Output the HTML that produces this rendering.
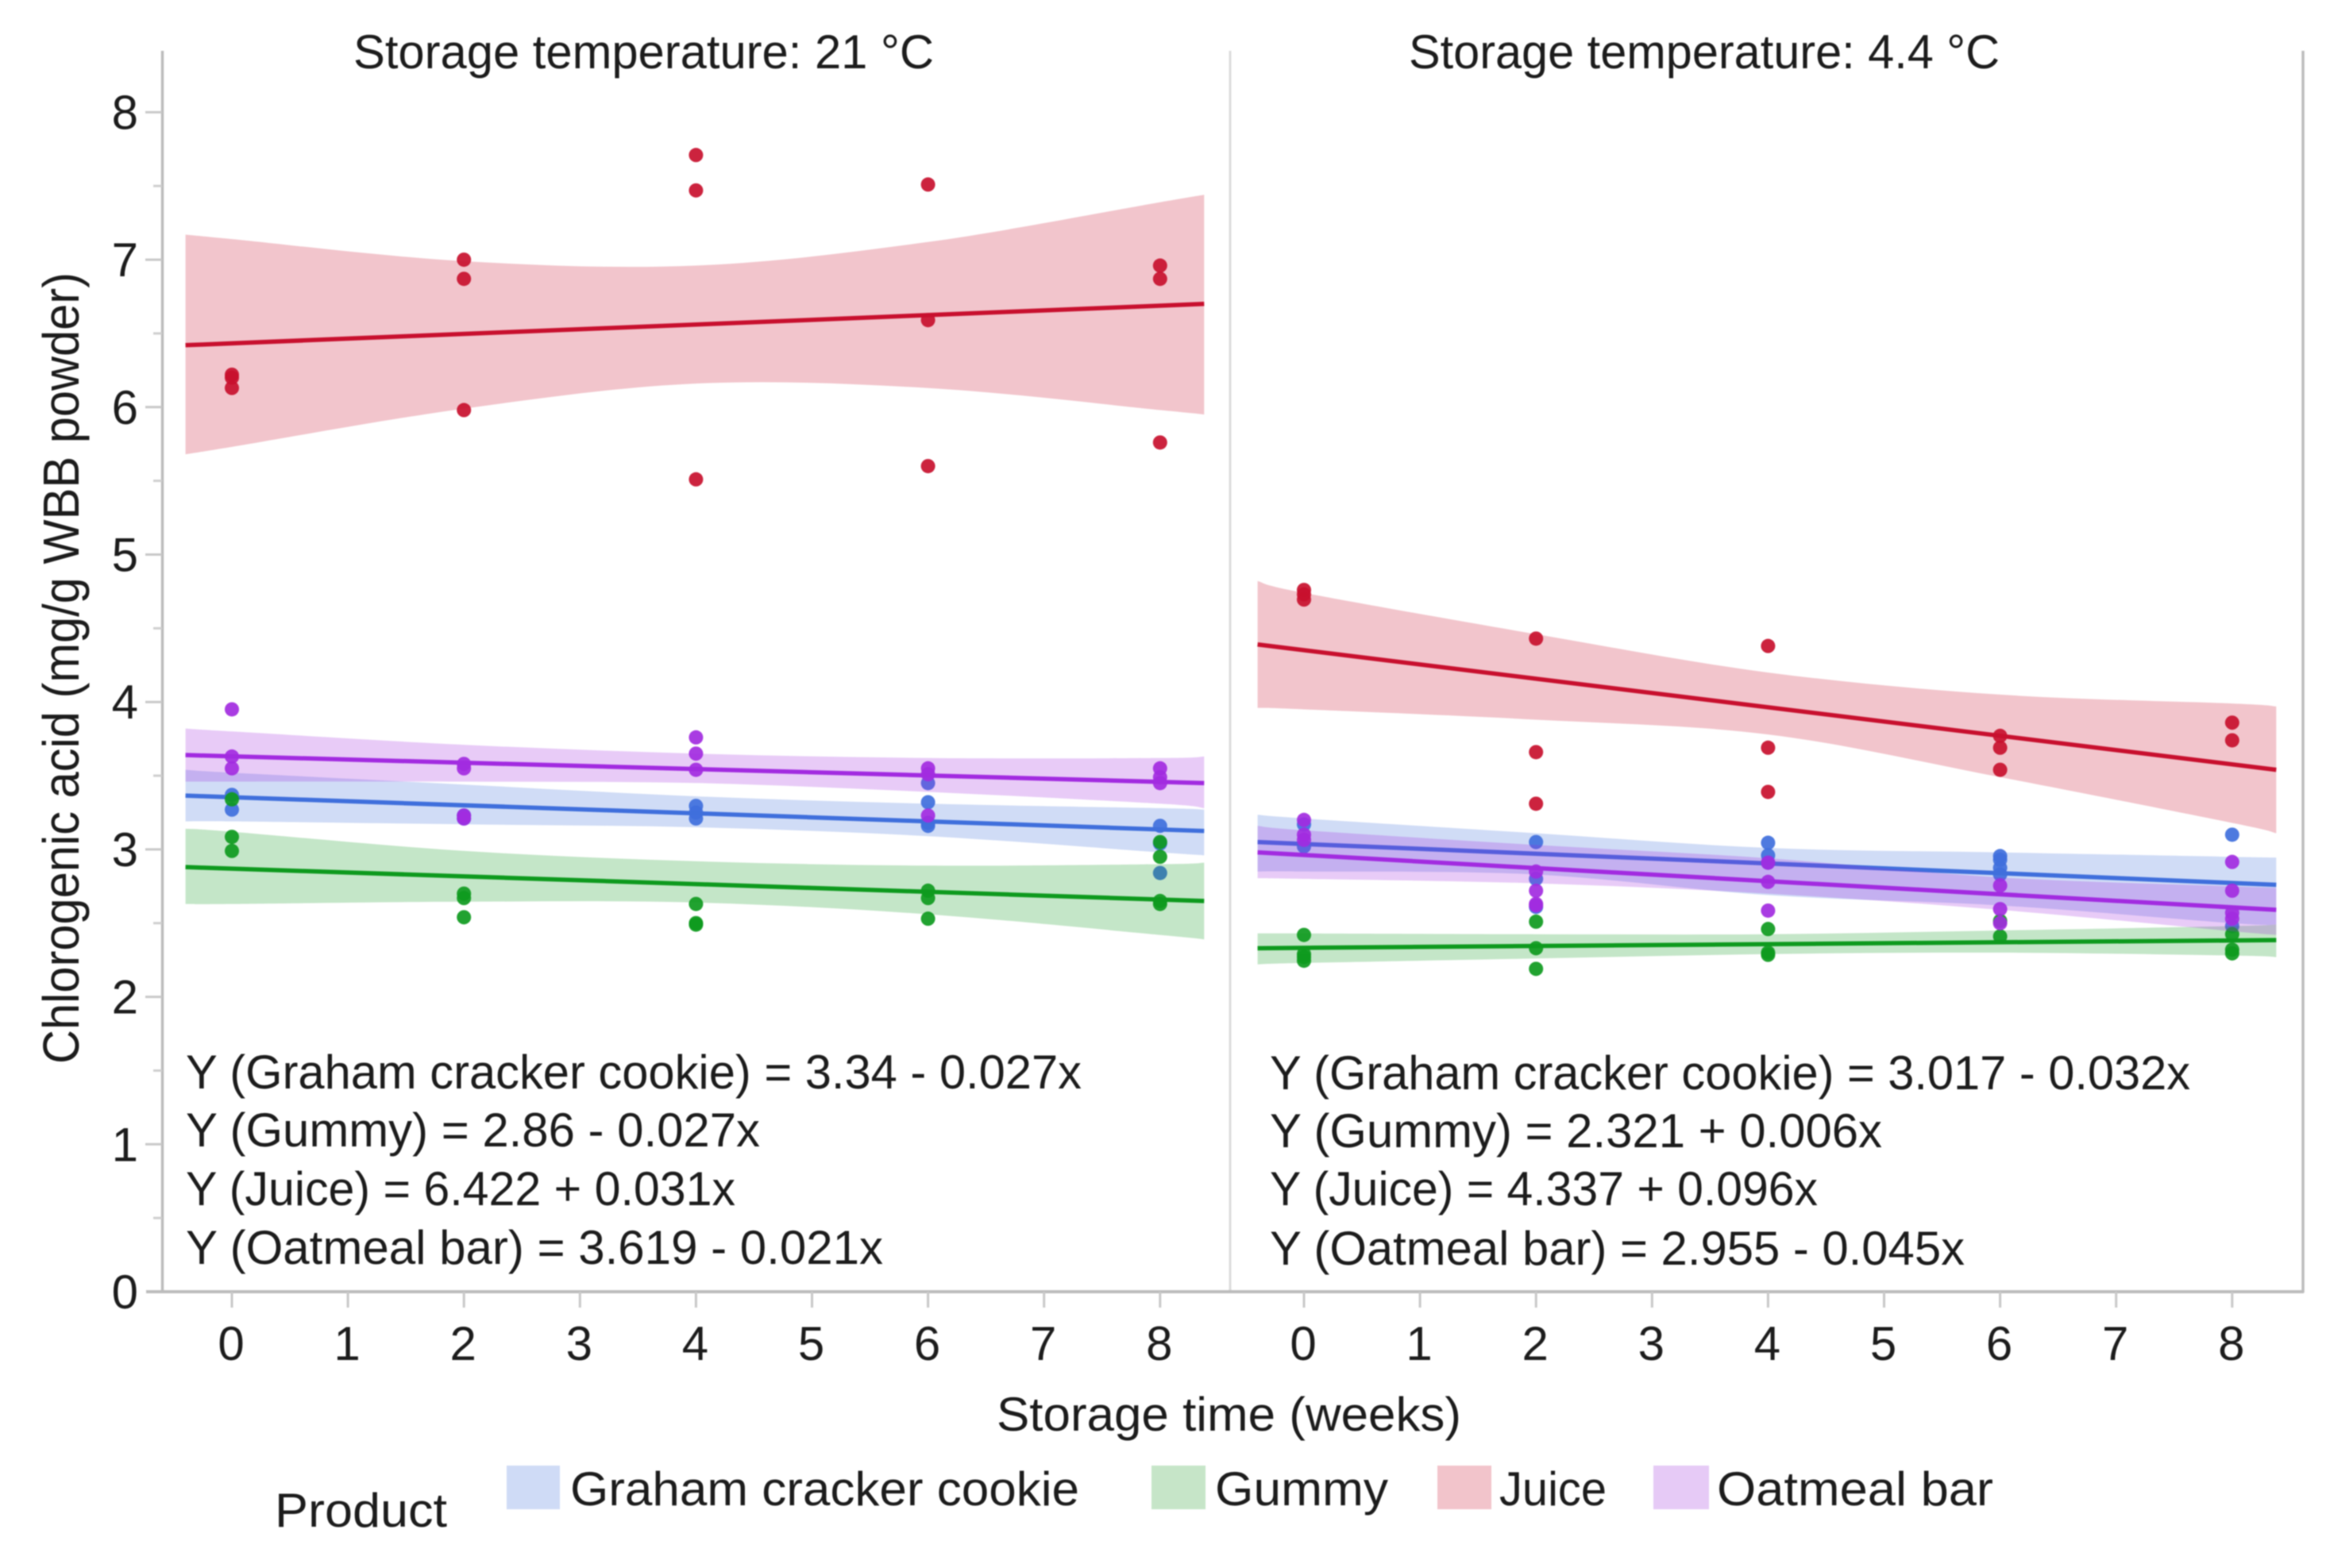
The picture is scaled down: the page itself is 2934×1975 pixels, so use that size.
<!DOCTYPE html>
<html lang="en">
<head>
<meta charset="utf-8">
<title>Chlorogenic acid by storage time</title>
<style>
html,body{margin:0;padding:0;background:#fff;}
svg{display:block;filter:blur(0.8px);}
text{font-family:"Liberation Sans",sans-serif;fill:#1c1c1c;}
</style>
</head>
<body>
<svg id="chart" xmlns="http://www.w3.org/2000/svg" width="2934" height="1975" viewBox="0 0 2934 1975">
  <rect x="0" y="0" width="2934" height="1975" fill="#ffffff"/>
  <g id="axes"></g>
  <g id="marks"></g>

  <text x="445" y="86" font-size="60" textLength="731" lengthAdjust="spacingAndGlyphs">Storage temperature: 21 °C</text>
  <text x="1774" y="86" font-size="60" textLength="744" lengthAdjust="spacingAndGlyphs">Storage temperature: 4.4 °C</text>

  <text transform="translate(99 1340) rotate(-90)" x="0" y="0" font-size="64" textLength="997" lengthAdjust="spacingAndGlyphs">Chlorogenic acid (mg/g WBB powder)</text>
  <text x="1255" y="1802" font-size="60" textLength="585" lengthAdjust="spacingAndGlyphs">Storage time (weeks)</text>

  <g>
    <text x="234" y="1371" font-size="60" textLength="1128" lengthAdjust="spacingAndGlyphs">Y (Graham cracker cookie) = 3.34 - 0.027x</text>
    <text x="234" y="1444" font-size="60" textLength="723" lengthAdjust="spacingAndGlyphs">Y (Gummy) = 2.86 - 0.027x</text>
    <text x="234" y="1518" font-size="60" textLength="692" lengthAdjust="spacingAndGlyphs">Y (Juice) = 6.422 + 0.031x</text>
    <text x="234" y="1592" font-size="60" textLength="878" lengthAdjust="spacingAndGlyphs">Y (Oatmeal bar) = 3.619 - 0.021x</text>
  </g>
  <g>
    <text x="1599" y="1372" font-size="60" textLength="1159" lengthAdjust="spacingAndGlyphs">Y (Graham cracker cookie) = 3.017 - 0.032x</text>
    <text x="1599" y="1445" font-size="60" textLength="771" lengthAdjust="spacingAndGlyphs">Y (Gummy) = 2.321 + 0.006x</text>
    <text x="1599" y="1518" font-size="60" textLength="690" lengthAdjust="spacingAndGlyphs">Y (Juice) = 4.337 + 0.096x</text>
    <text x="1599" y="1593" font-size="60" textLength="875" lengthAdjust="spacingAndGlyphs">Y (Oatmeal bar) = 2.955 - 0.045x</text>
  </g>

  <g>
    <text x="346" y="1923" font-size="60" textLength="217" lengthAdjust="spacingAndGlyphs">Product</text>
    <rect x="638" y="1846" width="67" height="55" fill="#cfdbf6"/>
    <text x="718" y="1896" font-size="60" textLength="641" lengthAdjust="spacingAndGlyphs">Graham cracker cookie</text>
    <rect x="1450" y="1846" width="68" height="55" fill="#c6e5c8"/>
    <text x="1530" y="1896" font-size="60" textLength="218" lengthAdjust="spacingAndGlyphs">Gummy</text>
    <rect x="1810" y="1846" width="68" height="55" fill="#f2c4cb"/>
    <text x="1888" y="1896" font-size="60" textLength="135" lengthAdjust="spacingAndGlyphs">Juice</text>
    <rect x="2082" y="1846" width="70" height="55" fill="#e6caf6"/>
    <text x="2162" y="1896" font-size="60" textLength="348" lengthAdjust="spacingAndGlyphs">Oatmeal bar</text>
  </g>
</svg>

<script>
// Axis tick labels
const xTickLabels = [0, 1, 2, 3, 4, 5, 6, 7, 8];
const yTickLabels = [0, 1, 2, 3, 4, 5, 6, 7, 8];
const yMinorTicks = [0.5, 1.5, 2.5, 3.5, 4.5, 5.5, 6.5, 7.5];

// Sampling weeks
const sampleWeeks = [0, 2, 4, 6, 8];
const bandWeeks = [-0.4, 0, 2, 4, 6, 8, 8.38];
const lineWeeks = [-0.4, 8.38];

// Storage temperature 21 C : fitted lines (start, end)
const graham21Line = [3.365, 3.125];
const gummy21Line = [2.88, 2.65];
const juice21Line = [6.42, 6.70];
const oatmeal21Line = [3.64, 3.45];

// Storage temperature 21 C : confidence bands
const graham21Upper = [3.54, 3.52, 3.44, 3.36, 3.31, 3.28, 3.27];
const graham21Lower = [3.19, 3.19, 3.17, 3.15, 3.09, 2.98, 2.96];
const gummy21Upper = [3.14, 3.12, 2.99, 2.92, 2.89, 2.90, 2.91];
const gummy21Lower = [2.63, 2.63, 2.645, 2.64, 2.56, 2.42, 2.39];
const juice21Upper = [7.17, 7.14, 6.99, 6.96, 7.12, 7.39, 7.44];
const juice21Lower = [5.68, 5.73, 5.99, 6.16, 6.13, 5.98, 5.95];
const oatmeal21Upper = [3.82, 3.80, 3.71, 3.65, 3.62, 3.62, 3.63];
const oatmeal21Lower = [3.46, 3.46, 3.46, 3.45, 3.39, 3.31, 3.28];

// Storage temperature 21 C : observed points per sampling week
const graham21Points = [[3.37, 3.27], [3.23, 3.21], [3.295, 3.25, 3.21], [3.45, 3.32, 3.18, 3.16], [3.16, 3.04, 2.84]];
const gummy21Points = [[3.34, 3.085, 2.99], [2.70, 2.67, 2.54], [2.63, 2.50, 2.49], [2.72, 2.67, 2.53], [3.05, 2.95, 2.65, 2.63]];
const juice21Points = [[6.22, 6.20, 6.13], [7.00, 6.87, 5.98], [7.71, 7.47, 5.51], [7.51, 6.59, 5.60], [6.96, 6.87, 5.76]];
const oatmeal21Points = [[3.95, 3.63, 3.55], [3.58, 3.55, 3.23, 3.21], [3.76, 3.65, 3.54], [3.55, 3.51, 3.23], [3.55, 3.49, 3.45]];

// Storage temperature 4.4 C : fitted lines (start, end)
const graham44Line = [3.05, 2.76];
const gummy44Line = [2.33, 2.385];
const juice44Line = [4.39, 3.54];
const oatmeal44Line = [2.98, 2.59];

// Storage temperature 4.4 C : confidence bands
const graham44Upper = [3.235, 3.21, 3.11, 3.01, 2.98, 2.95, 2.945];
const graham44Lower = [2.85, 2.85, 2.83, 2.69, 2.62, 2.50, 2.49];
const gummy44Upper = [2.43, 2.43, 2.425, 2.425, 2.45, 2.48, 2.49];
const gummy44Lower = [2.22, 2.23, 2.26, 2.29, 2.30, 2.28, 2.27];
const juice44Upper = [4.82, 4.74, 4.46, 4.20, 4.05, 3.99, 3.97];
const juice44Lower = [3.96, 3.95, 3.88, 3.78, 3.49, 3.18, 3.11];
const oatmeal44Upper = [3.16, 3.13, 3.03, 2.94, 2.81, 2.75, 2.74];
const oatmeal44Lower = [2.805, 2.80, 2.77, 2.70, 2.59, 2.445, 2.42];

// Storage temperature 4.4 C : observed points per sampling week
const graham44Points = [[3.17, 3.02], [3.05, 2.80, 2.61], [3.045, 2.96, 2.91], [2.955, 2.93, 2.875, 2.83], [3.10, 2.48]];
const gummy44Points = [[2.42, 2.29, 2.27, 2.245], [2.51, 2.33, 2.19], [2.46, 2.30, 2.285], [2.515, 2.41], [2.425, 2.32, 2.295]];
const juice44Points = [[4.76, 4.73, 4.695], [4.43, 3.66, 3.31], [4.38, 3.69, 3.39], [3.77, 3.69, 3.54], [3.86, 3.74]];
const oatmeal44Points = [[3.20, 3.10, 3.065], [2.85, 2.72, 2.63, 2.62], [2.91, 2.78, 2.585], [2.755, 2.595, 2.50], [2.915, 2.72, 2.57, 2.53]];

const seriesNames = ['graham', 'gummy', 'juice', 'oatmeal'];
const seriesColors = ['#3f6fdc', '#0e9a1e', '#c8102e', '#a22be0'];

const panelKeys = ['21c', '4-4c'];
const panelLines = [
  [graham21Line, gummy21Line, juice21Line, oatmeal21Line],
  [graham44Line, gummy44Line, juice44Line, oatmeal44Line]
];
const panelUppers = [
  [graham21Upper, gummy21Upper, juice21Upper, oatmeal21Upper],
  [graham44Upper, gummy44Upper, juice44Upper, oatmeal44Upper]
];
const panelLowers = [
  [graham21Lower, gummy21Lower, juice21Lower, oatmeal21Lower],
  [graham44Lower, gummy44Lower, juice44Lower, oatmeal44Lower]
];
const panelPoints = [
  [graham21Points, gummy21Points, juice21Points, oatmeal21Points],
  [graham44Points, gummy44Points, juice44Points, oatmeal44Points]
];

const NS = 'http://www.w3.org/2000/svg';
const panelOrigins = [292, 1642];
function xScale(panel, week) { return panelOrigins[panel] + 146.1 * week; }
function yScale(v) { return 1627 - 185.7 * v; }

function mk(tag, parent, attrs) {
  const el = document.createElementNS(NS, tag);
  for (const k in attrs) el.setAttribute(k, attrs[k]);
  parent.appendChild(el);
  return el;
}

function smoothSegments(pts) {
  let d = '';
  for (let i = 0; i < pts.length - 1; i++) {
    const p0 = pts[Math.max(i - 1, 0)], p1 = pts[i], p2 = pts[i + 1], p3 = pts[Math.min(i + 2, pts.length - 1)];
    const c1x = p1[0] + (p2[0] - p0[0]) / 6, c1y = p1[1] + (p2[1] - p0[1]) / 6;
    const c2x = p2[0] - (p3[0] - p1[0]) / 6, c2y = p2[1] - (p3[1] - p1[1]) / 6;
    d += 'C' + c1x.toFixed(1) + ' ' + c1y.toFixed(1) + ' ' + c2x.toFixed(1) + ' ' + c2y.toFixed(1) + ' ' + p2[0].toFixed(1) + ' ' + p2[1].toFixed(1);
  }
  return d;
}

const axes = document.getElementById('axes');
const marks = document.getElementById('marks');

// Panel frame
const yAxisLine = mk('line', axes, {x1: 204.5, y1: 64, x2: 204.5, y2: 1627, stroke: '#bcbcbc', 'stroke-width': 3.5});


const separator = mk('line', axes, {x1: 1549, y1: 64, x2: 1549, y2: 1627, stroke: '#dcdcdc', 'stroke-width': 3});


const rightBorder = mk('line', axes, {x1: 2900, y1: 64, x2: 2900, y2: 1628, stroke: '#bcbcbc', 'stroke-width': 3.5});


const xAxisLine = mk('line', axes, {x1: 184, y1: 1627, x2: 2901, y2: 1627, stroke: '#bcbcbc', 'stroke-width': 4});



// Y ticks
yTickLabels.forEach(function (v) {
  if (v > 0) {
    const tick = mk('line', axes, {x1: 183, y1: yScale(v), x2: 204, y2: yScale(v), stroke: '#c8c8c8', 'stroke-width': 3});
    
    
  }
  const label = mk('text', axes, {x: 174, y: yScale(v) + 21, 'text-anchor': 'end', 'font-size': 60});
  
  
  label.textContent = v;
});
yMinorTicks.forEach(function (v) {
  const tick = mk('line', axes, {x1: 193, y1: yScale(v), x2: 204, y2: yScale(v), stroke: '#cfcfcf', 'stroke-width': 3});
  
  
});

// X ticks for both panels
panelKeys.forEach(function (key, p) {
  xTickLabels.forEach(function (w) {
    const tick = mk('line', axes, {x1: xScale(p, w), y1: 1627, x2: xScale(p, w), y2: 1647, stroke: '#c8c8c8', 'stroke-width': 3});
    
    
    const label = mk('text', axes, {x: xScale(p, w) - 1, y: 1713, 'text-anchor': 'middle', 'font-size': 60});
    
    
    label.textContent = w;
  });
});

// Series: band, points, line, in legend order
panelKeys.forEach(function (key, p) {
  seriesNames.forEach(function (name, s) {
    const color = seriesColors[s];
    const up = bandWeeks.map(function (w, i) { return [xScale(p, w), yScale(panelUppers[p][s][i])]; });
    const lo = bandWeeks.map(function (w, i) { return [xScale(p, w), yScale(panelLowers[p][s][i])]; }).reverse();
    const d = 'M' + up[0][0].toFixed(1) + ' ' + up[0][1].toFixed(1) + smoothSegments(up) +
              'L' + lo[0][0].toFixed(1) + ' ' + lo[0][1].toFixed(1) + smoothSegments(lo) + 'Z';
    const band = mk('path', marks, {d: d, fill: color, 'fill-opacity': 0.245});
    
    

    sampleWeeks.forEach(function (w, i) {
      panelPoints[p][s][i].forEach(function (v) {
        const pt = mk('circle', marks, {cx: xScale(p, w), cy: yScale(v), r: 9, fill: color, 'fill-opacity': 0.92});
        
        
      });
    });

    const ln = panelLines[p][s];
    const line = mk('line', marks, {x1: xScale(p, lineWeeks[0]), y1: yScale(ln[0]), x2: xScale(p, lineWeeks[1]), y2: yScale(ln[1]), stroke: color, 'stroke-width': 5.5});
    
    
  });
});
</script>
</body>
</html>
